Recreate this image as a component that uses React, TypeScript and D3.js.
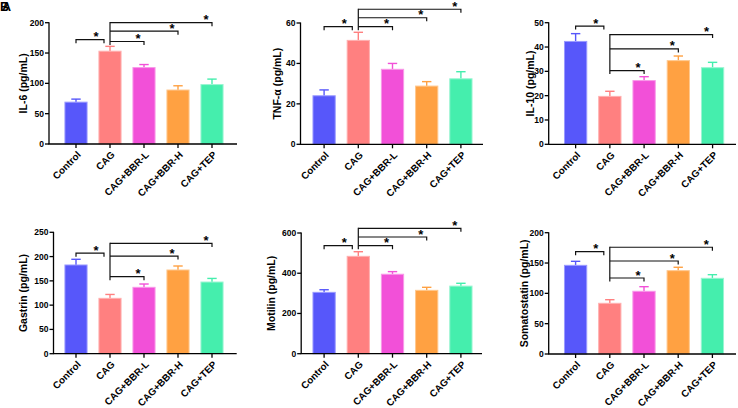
import React from "react";
import * as d3 from "d3";

const groups = ["Control", "CAG", "CAG+BBR-L", "CAG+BBR-H", "CAG+TEP"];
const colors = ["#5757FA", "#FF8080", "#F250D8", "#FFA142", "#45EEAD"];
const edgeColors = ["#9A9AFF", "#FFB0B0", "#F898E8", "#FFC88E", "#99F5D2"];

const il6Mean = [69, 153, 126, 89, 98];
const il6Err = [5, 8, 5, 7, 9];
const il6Ticks = [0, 50, 100, 150, 200];
const il6Sig = [172, 169, 186, 200];

const tnfMean = [24, 51.4, 37.1, 28.8, 32.4];
const tnfErr = [2.9, 4, 2.9, 2.2, 3.5];
const tnfTicks = [0, 20, 40, 60];
const tnfSig = [58.2, 58.2, 62.6, 66.8];

const il10Mean = [42.3, 19.7, 26.2, 34.4, 31.5];
const il10Err = [3.2, 2.1, 1.6, 1.9, 2.2];
const il10Ticks = [0, 10, 20, 30, 40, 50];
const il10Sig = [48.6, 30.3, 39.2, 45.1];

const gastrinMean = [182.7, 114, 136.7, 172.4, 147.6];
const gastrinErr = [11.7, 8, 6.8, 8.2, 7.4];
const gastrinTicks = [0, 50, 100, 150, 200, 250];
const gastrinSig = [207, 158.6, 201, 227];

const motilinMean = [305, 484, 395, 315, 336];
const motilinErr = [13, 23, 13, 15, 14];
const motilinTicks = [0, 200, 400, 600];
const motilinSig = [537, 537, 580, 623];

const somaMean = [146.2, 83.6, 103.4, 137.4, 124.8];
const somaErr = [6.6, 5.9, 7.6, 5.6, 6];
const somaTicks = [0, 50, 100, 150, 200];
const somaSig = [168.7, 125.3, 153.3, 176];

type Layout = {
  axisX: number; y0: number; yTop: number; bandL: number; bandR: number; xEnd: number; labelX: number;
};

const panels = [
  { label: "IL-6 (pg/mL)", mean: il6Mean, err: il6Err, ticks: il6Ticks, sig: il6Sig,
    lay: { axisX: 49, y0: 144, yTop: 22.7, bandL: 59, bandR: 229, xEnd: 237, labelX: 23 } },
  { label: "TNF-α (pg/mL)", mean: tnfMean, err: tnfErr, ticks: tnfTicks, sig: tnfSig,
    lay: { axisX: 300.5, y0: 144.3, yTop: 23, bandL: 307, bandR: 478, xEnd: 483, labelX: 277 } },
  { label: "IL-10 (pg/mL)", mean: il10Mean, err: il10Err, ticks: il10Ticks, sig: il10Sig,
    lay: { axisX: 548.7, y0: 144.3, yTop: 22.7, bandL: 558.5, bandR: 729.7, xEnd: 736, labelX: 530 } },
  { label: "Gastrin (pg/mL)", mean: gastrinMean, err: gastrinErr, ticks: gastrinTicks, sig: gastrinSig,
    lay: { axisX: 53.5, y0: 353.7, yTop: 232.3, bandL: 59, bandR: 229, xEnd: 236.7, labelX: 23.3 } },
  { label: "Motilin (pg/mL)", mean: motilinMean, err: motilinErr, ticks: motilinTicks, sig: motilinSig,
    lay: { axisX: 301.2, y0: 353.7, yTop: 233, bandL: 307, bandR: 478, xEnd: 482, labelX: 271.7 } },
  { label: "Somatostatin (pg/mL)", mean: somaMean, err: somaErr, ticks: somaTicks, sig: somaSig,
    lay: { axisX: 548.7, y0: 354, yTop: 232.7, bandL: 558.5, bandR: 729.5, xEnd: 736, labelX: 524.3 } },
];

const FONT = "Arial, 'Liberation Sans', Helvetica, sans-serif";

function Panel({ p }: { p: (typeof panels)[number] }) {
  const lay: Layout = p.lay;
  const maxT = p.ticks[p.ticks.length - 1];
  const y = d3.scaleLinear().domain([0, maxT]).range([lay.y0, lay.yTop]);
  const x = d3.scaleBand<string>().domain(groups).range([lay.bandL, lay.bandR]).paddingInner(0.32).paddingOuter(0.16);
  const bw = x.bandwidth();
  const cx = (g: string) => (x(g) as number) + bw / 2;
  const tickH = 3.5;
  const cCtrl = cx(groups[0]);
  const cCag = cx(groups[1]);
  const sigY = p.sig.map((v) => y(v));
  const lowest = Math.max(sigY[1], sigY[2], sigY[3]);
  const highest = Math.min(sigY[1], sigY[2], sigY[3]);
  return (
    <g>
      {groups.map((g, i) => {
        const top = y(p.mean[i]);
        const et = y(p.mean[i] + p.err[i]);
        return (
          <g key={g}>
            <line x1={cx(g)} x2={cx(g)} y1={top} y2={et} stroke={colors[i]} strokeWidth={1.4} />
            <line x1={cx(g) - 4.7} x2={cx(g) + 4.7} y1={et} y2={et} stroke={colors[i]} strokeWidth={1.4} />
            <rect x={(x(g) as number) + 0.5} y={top} width={bw - 1} height={lay.y0 - top}
              fill={colors[i]} stroke={edgeColors[i]} strokeWidth={1} />
          </g>
        );
      })}
      <line x1={lay.axisX} x2={lay.axisX} y1={lay.yTop - 0.5} y2={lay.y0} stroke="#000" strokeWidth={1.3} />
      <line x1={lay.axisX - 0.6} x2={lay.xEnd} y1={lay.y0} y2={lay.y0} stroke="#000" strokeWidth={1.3} />
      {p.ticks.map((t) => (
        <g key={t}>
          <line x1={lay.axisX - 4} x2={lay.axisX} y1={y(t)} y2={y(t)} stroke="#000" strokeWidth={1.3} />
          <text x={lay.axisX - 5} y={y(t)} dy="0.35em" textAnchor="end" fontFamily={FONT} fontWeight="bold" fontSize={8.5} fill="#000">{t}</text>
        </g>
      ))}
      {groups.map((g) => (
        <g key={g}>
          <line x1={cx(g)} x2={cx(g)} y1={lay.y0} y2={lay.y0 + 4} stroke="#000" strokeWidth={1.3} />
          <text transform={`translate(${cx(g) + 3},${lay.y0 + 9}) rotate(-45)`} textAnchor="end" dy="0.35em"
            fontFamily={FONT} fontWeight="bold" fontSize={9.8} fill="#000">{g}</text>
        </g>
      ))}
      <text transform={`translate(${lay.labelX},${(lay.y0 + lay.yTop) / 2}) rotate(-90)`} textAnchor="middle" dy="0.35em"
        fontFamily={FONT} fontWeight="bold" fontSize={10.5} fill="#000">{p.label}</text>
      <path d={`M${cCtrl},${sigY[0] + tickH}V${sigY[0]}H${cCag - 6}V${sigY[0] + tickH}`} fill="none" stroke="#111" strokeWidth={1.2} />
      <text x={cCag - 14} y={sigY[0] + 1.5} textAnchor="middle" fontFamily={FONT} fontWeight="bold" fontSize={13} fill="#000">*</text>
      <line x1={cCag} x2={cCag} y1={lowest + tickH} y2={highest - 0.6} stroke="#111" strokeWidth={1.2} />
      {[2, 3, 4].map((k) => {
        const yy = sigY[k - 1];
        const xe = cx(groups[k]);
        return (
          <g key={k}>
            <path d={`M${cCag},${yy}H${xe}V${yy + tickH}`} fill="none" stroke="#111" strokeWidth={1.2} />
            <text x={xe - 6} y={yy + 1.5} textAnchor="middle" fontFamily={FONT} fontWeight="bold" fontSize={13} fill="#000">*</text>
          </g>
        );
      })}
    </g>
  );
}

export default function App() {
  return (
    <svg width={738} height={408} style={{ position: "absolute", left: 0, top: 0, background: "#fff" }}>
      <rect width={738} height={408} fill="#fff" />
      {panels.map((p, i) => <Panel key={i} p={p} />)}
      <text x={0} y={11} fontFamily={FONT} fontWeight="bold" fontSize={12.5} fill="#000">B</text>
      <text x={2} y={11} fontFamily={FONT} fontWeight="bold" fontSize={12.5} fill="#000">A</text>
    </svg>
  );
}
